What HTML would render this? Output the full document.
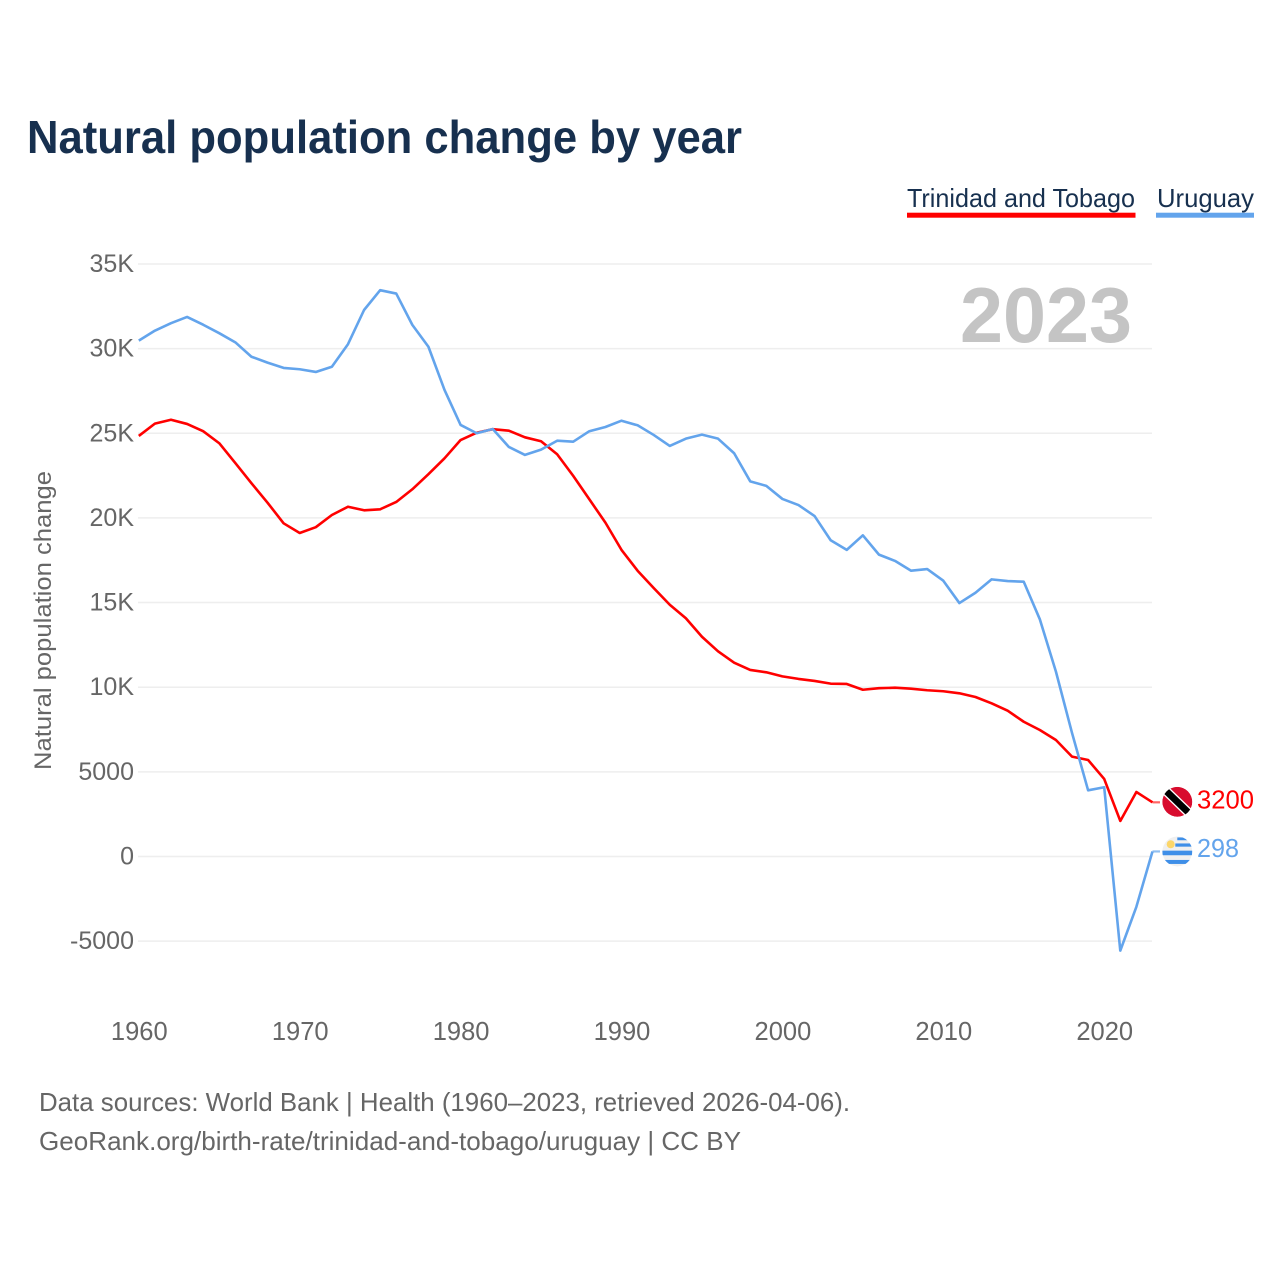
<!DOCTYPE html>
<html lang="en">
<head>
<meta charset="utf-8">
<title>Natural population change by year</title>
<style>
html,body{margin:0;padding:0;background:#fff;width:1280px;height:1280px;overflow:hidden}
svg{display:block}
text{font-family:"Liberation Sans",sans-serif}
</style>
</head>
<body>
<svg id="chart" xmlns="http://www.w3.org/2000/svg" width="1280" height="1280" viewBox="0 0 1280 1280">
  <defs>
    <clipPath id="flag-clip-tt"><circle cx="0" cy="0" r="15"></circle></clipPath>
    <clipPath id="flag-clip-uy"><circle cx="0" cy="0" r="15"></circle></clipPath>
  </defs>
  <rect width="1280" height="1280" fill="#fff"></rect>
  <text x="27" y="153" font-size="46" font-weight="700" fill="#17304f" textLength="715" lengthAdjust="spacingAndGlyphs">Natural population change by year</text>
  <g>
    <g>
      <text x="907" y="207" font-size="26" fill="#17304f" textLength="228" lengthAdjust="spacingAndGlyphs">Trinidad and Tobago</text>
      <rect x="907" y="212.7" width="228.5" height="5" fill="#ff0000"></rect>
    </g>
    <g>
      <text x="1157" y="207" font-size="26" fill="#17304f" textLength="97" lengthAdjust="spacingAndGlyphs">Uruguay</text>
      <rect x="1156" y="212.7" width="98" height="5" fill="#63a4ec"></rect>
    </g>
  </g>
  <g id="grid"></g>
  <text x="1132" y="342" text-anchor="end" font-size="78" font-weight="700" fill="#c4c4c4" textLength="172" lengthAdjust="spacingAndGlyphs">2023</text>
  <g id="y-ticks"></g>
  <g id="x-ticks"></g>
  <text transform="translate(51,770) rotate(-90)" font-size="24" fill="#666" textLength="299" lengthAdjust="spacingAndGlyphs">Natural population change</text>
  <g id="series"></g>
  <g id="end-tt">
    <g clip-path="url(#flag-clip-tt)" transform="translate(1177.3,-0.5)">
      <circle r="15" fill="#d80c2e"></circle>
      <line x1="-15" y1="-14.5" x2="15" y2="14.5" stroke="#fff" stroke-width="9.5"></line>
      <line x1="-15" y1="-14.5" x2="15" y2="14.5" stroke="#000" stroke-width="6.8"></line>
    </g>
    <text id="end-label-tt" x="1197" y="6" font-size="26" fill="#ff0000" textLength="57" lengthAdjust="spacingAndGlyphs"></text>
  </g>
  <g id="end-uy">
    <g clip-path="url(#flag-clip-uy)" transform="translate(1177.3,0)">
      <circle r="15" fill="#f0f0f0"></circle>
      <rect x="0" y="-14" width="15" height="2.8" fill="#3f8fe8"></rect>
      <rect x="-2" y="-8" width="17" height="3.2" fill="#3f8fe8"></rect>
      <rect x="-15" y="-0.8" width="30" height="4.6" fill="#3f8fe8"></rect>
      <rect x="-15" y="8.5" width="30" height="4" fill="#3f8fe8"></rect>
      <circle cx="-6.6" cy="-7.2" r="4" fill="#fcd669"></circle>
    </g>
    <text id="end-label-uy" x="1197" y="5.5" font-size="26" fill="#63a4ec" textLength="42" lengthAdjust="spacingAndGlyphs"></text>
  </g>
  <g>
    <text x="39" y="1111" font-size="26" fill="#666" textLength="811" lengthAdjust="spacingAndGlyphs">Data sources: World Bank | Health (1960–2023, retrieved 2026-04-06).</text>
    <text x="39" y="1150" font-size="26" fill="#666" textLength="702" lengthAdjust="spacingAndGlyphs">GeoRank.org/birth-rate/trinidad-and-tobago/uruguay | CC BY</text>
  </g>
</svg>
<script>
const startYear = 1960;
const yTickValues = [35000, 30000, 25000, 20000, 15000, 10000, 5000, 0, -5000];
const yTickLabels = ["35K", "30K", "25K", "20K", "15K", "10K", "5000", "0", "-5000"];
const xTickValues = [1960, 1970, 1980, 1990, 2000, 2010, 2020];
const xTickLabels = ["1960", "1970", "1980", "1990", "2000", "2010", "2020"];
const trinidadValues = [
  24840, 25570, 25800, 25550, 25120, 24410, 23240, 22050, 20900, 19680,
  19110, 19450, 20170, 20660, 20450, 20510, 20940, 21690, 22580, 23520,
  24600, 25030, 25240, 25150, 24760, 24530, 23760, 22480, 21100, 19720,
  18110, 16880, 15860, 14870, 14070, 12980, 12120, 11450, 11020, 10880,
  10640, 10490, 10370, 10210, 10190, 9850, 9940, 9970, 9910, 9820,
  9760, 9640, 9420, 9050, 8610, 7960, 7470, 6880, 5900, 5700,
  4580, 2100, 3810, 3200
];
const uruguayValues = [
  30470, 31060, 31500, 31870, 31410, 30910, 30370, 29520, 29170, 28860,
  28780, 28620, 28930, 30260, 32280, 33450, 33250, 31400, 30110, 27560,
  25490, 25000, 25250, 24190, 23720, 24030, 24560, 24500, 25120, 25370,
  25740, 25470, 24900, 24250, 24680, 24920, 24680, 23820, 22160, 21890,
  21120, 20760, 20110, 18680, 18110, 18970, 17830, 17460, 16880, 16980,
  16290, 14970, 15580, 16370, 16270, 16230, 14010, 10920, 7300, 3910,
  4090, -5560, -2970, 298
];

const NS = "http://www.w3.org/2000/svg";
function xScale(year) { return 138.8 + (year - 1960) * 16.09; }
function yScale(value) { return 856.5 - value * 84.65 / 5000; }

const grid = document.getElementById("grid");
const yTicks = document.getElementById("y-ticks");
yTickValues.forEach(function (v, i) {
  const line = document.createElementNS(NS, "line");
  
  
  line.setAttribute("x1", 138);
  line.setAttribute("x2", 1152);
  line.setAttribute("y1", yScale(v));
  line.setAttribute("y2", yScale(v));
  line.setAttribute("stroke", "#eeeeee");
  line.setAttribute("stroke-width", "1.5");
  grid.appendChild(line);

  const label = document.createElementNS(NS, "text");
  
  
  label.setAttribute("x", 134);
  label.setAttribute("y", yScale(v) + 8);
  label.setAttribute("text-anchor", "end");
  label.setAttribute("font-size", "25");
  label.setAttribute("fill", "#666");
  label.textContent = yTickLabels[i];
  yTicks.appendChild(label);
});

const xTicks = document.getElementById("x-ticks");
xTickValues.forEach(function (year, i) {
  const label = document.createElementNS(NS, "text");
  
  
  label.setAttribute("x", xScale(year) + 0.5);
  label.setAttribute("y", 1040);
  label.setAttribute("text-anchor", "middle");
  label.setAttribute("font-size", "25.5");
  label.setAttribute("fill", "#666");
  label.textContent = xTickLabels[i];
  xTicks.appendChild(label);
});

function pathFor(values) {
  return values.map(function (v, i) {
    return (i ? "L" : "M") + xScale(startYear + i).toFixed(2) + " " + yScale(v).toFixed(2);
  }).join(" ");
}

const seriesGroup = document.getElementById("series");

const uyConnector = document.createElementNS(NS, "line");


uyConnector.setAttribute("x1", xScale(startYear + uruguayValues.length - 1));
uyConnector.setAttribute("x2", 1160);
uyConnector.setAttribute("y1", yScale(uruguayValues[uruguayValues.length - 1]));
uyConnector.setAttribute("y2", yScale(uruguayValues[uruguayValues.length - 1]));
uyConnector.setAttribute("stroke", "#63a4ec");
uyConnector.setAttribute("stroke-width", "2.2");
uyConnector.setAttribute("opacity", "0.7");
seriesGroup.appendChild(uyConnector);

const ttConnector = document.createElementNS(NS, "line");


ttConnector.setAttribute("x1", xScale(startYear + trinidadValues.length - 1));
ttConnector.setAttribute("x2", 1160);
ttConnector.setAttribute("y1", yScale(trinidadValues[trinidadValues.length - 1]));
ttConnector.setAttribute("y2", yScale(trinidadValues[trinidadValues.length - 1]));
ttConnector.setAttribute("stroke", "#ff0000");
ttConnector.setAttribute("stroke-width", "2.2");
ttConnector.setAttribute("opacity", "0.6");
seriesGroup.appendChild(ttConnector);

const uyLine = document.createElementNS(NS, "path");


uyLine.setAttribute("d", pathFor(uruguayValues));
uyLine.setAttribute("fill", "none");
uyLine.setAttribute("stroke", "#63a4ec");
uyLine.setAttribute("stroke-width", "2.6");
uyLine.setAttribute("stroke-linejoin", "round");
seriesGroup.appendChild(uyLine);

const ttLine = document.createElementNS(NS, "path");


ttLine.setAttribute("d", pathFor(trinidadValues));
ttLine.setAttribute("fill", "none");
ttLine.setAttribute("stroke", "#ff0000");
ttLine.setAttribute("stroke-width", "2.6");
ttLine.setAttribute("stroke-linejoin", "round");
seriesGroup.insertBefore(ttLine, uyLine);

const ttEnd = trinidadValues[trinidadValues.length - 1];
const uyEnd = uruguayValues[uruguayValues.length - 1];
document.getElementById("end-tt").setAttribute("transform", "translate(0," + yScale(ttEnd).toFixed(2) + ")");
document.getElementById("end-uy").setAttribute("transform", "translate(0," + yScale(uyEnd).toFixed(2) + ")");
document.getElementById("end-label-tt").textContent = String(ttEnd);
document.getElementById("end-label-uy").textContent = String(uyEnd);
</script>
</body>
</html>
